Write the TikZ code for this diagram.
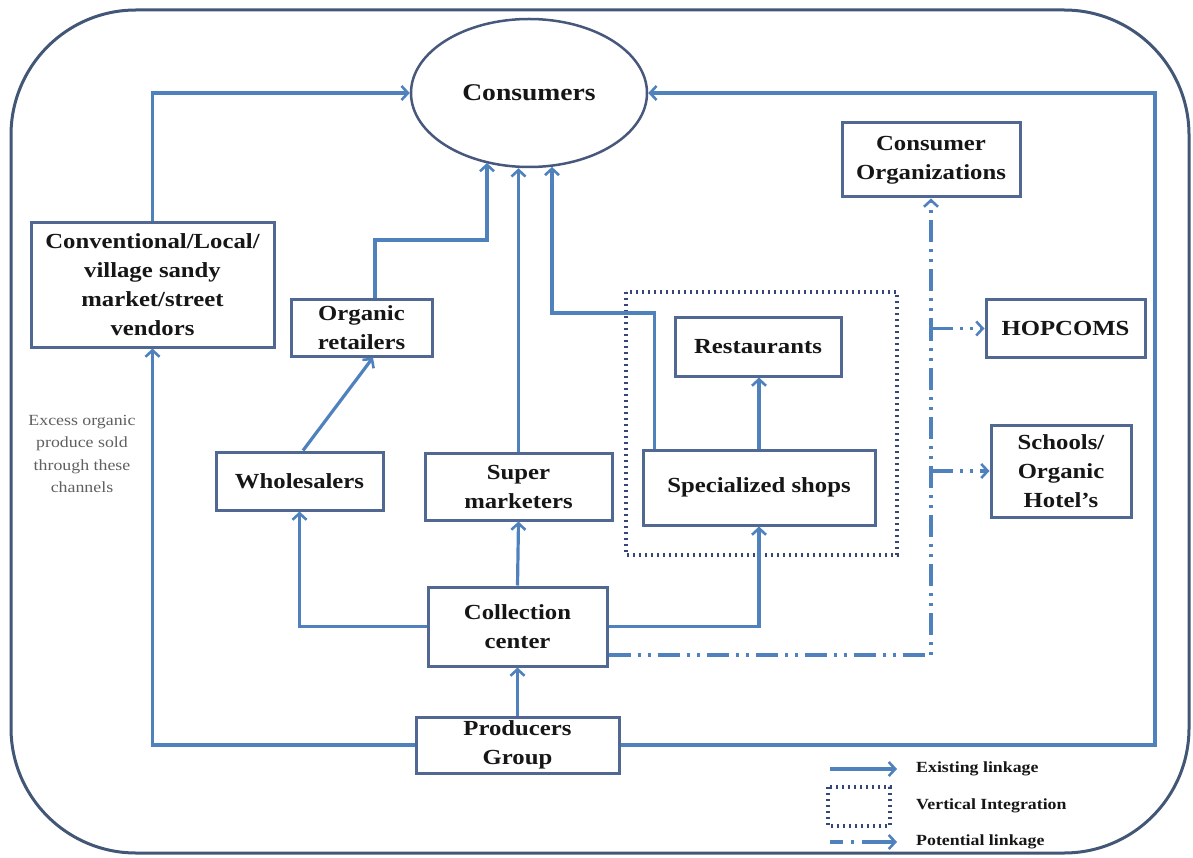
\documentclass[tikz,border=0pt]{standalone}
\usepackage{fontspec}
\setmainfont{Liberation Serif}[FakeStretch=1.15]
\usetikzlibrary{arrows.meta,shapes.geometric}

\definecolor{linkblue}{RGB}{79,129,189}
\definecolor{boxc}{RGB}{80,104,146}
\definecolor{ellc}{RGB}{72,88,124}
\definecolor{framec}{RGB}{66,86,118}
\definecolor{vintc}{RGB}{55,70,120}
\definecolor{txt}{RGB}{22,22,22}
\definecolor{notec}{RGB}{95,95,95}

\newcommand\bxfont{\bfseries\fontsize{21.5}{29}\selectfont}
\newcommand\lgfont{\bfseries\fontsize{15.5}{18}\selectfont}

\begin{document}
\begin{tikzpicture}[x=1pt,y=-1pt,
  tip/.tip={Straight Barb[length=6.5pt,width=14pt,line width=2.6pt]},
  link/.style={draw=linkblue,line width=3.2pt,-tip},
  potential/.style={draw=linkblue,line width=3.2pt,
    dash pattern=on 22pt off 7pt on 3pt off 7pt on 3pt off 7pt,-tip},
  vint/.style={draw=vintc,line width=3.2pt,dash pattern=on 2.2pt off 3.8pt},
  box/.style={draw=boxc,line width=3pt,fill=white,align=center,
    font=\bxfont,text=txt,inner sep=0pt},
  legtext/.style={anchor=west,font=\lgfont,text=txt,inner sep=0pt}]

\useasboundingbox (0,0) rectangle (1193,858);

% outer frame
\draw[framec,line width=3pt,rounded corners=125pt] (11,10) rectangle (1189,853);

% vertical integration frame
\draw[vint] (626,292) rectangle (897,555);

% actors
\node[ellipse,draw=ellc,line width=2.5pt,minimum width=236pt,minimum height=148pt,
  inner sep=0pt,font=\bfseries\fontsize{24}{28}\selectfont,text=txt] (cons) at (529,93) {Consumers};
\node[box,minimum width=243pt,minimum height=124pt] (conv) at (152.5,285)
  {Conventional/Local/\\village sandy\\market/street\\vendors};
\node[box,minimum width=141pt,minimum height=56pt] (oret) at (361.5,328) {Organic\\retailers};
\node[box,minimum width=167pt,minimum height=58pt] (whole) at (299.5,481) {Wholesalers};
\node[box,minimum width=187pt,minimum height=67pt] (super) at (518.5,486.5) {Super\\marketers};
\node[box,minimum width=166pt,minimum height=58pt] (rest) at (758,347) {Restaurants};
\node[box,minimum width=232pt,minimum height=75pt] (spec) at (759,487.5) {Specialized shops};
\node[box,minimum width=179pt,minimum height=79pt] (coll) at (517.5,626.5) {Collection\\center};
\node[box,minimum width=203pt,minimum height=56pt] (prod) at (517.5,745) {Producers\\Group};
\node[box,minimum width=178pt,minimum height=74pt] (corg) at (931,160) {Consumer\\Organizations};
\node[box,minimum width=159pt,minimum height=57pt] (hop) at (1065.5,328.5) {HOPCOMS};
\node[box,minimum width=140pt,minimum height=92pt] (sch) at (1061,471) {Schools/\\Organic\\Hotel's};

\node[align=center,text=notec,inner sep=0pt,font=\fontsize{15.5}{22.5}\selectfont] (note) at (82,454)
  {Excess organic\\produce sold\\through these\\channels};

% existing linkages
\coordinate (ob) at (487,240);
\coordinate (sb) at (552,313);
\coordinate (rc) at (1155,745);
\draw[link] (conv.north) |- (cons.west);
\draw[link] ([xshift=13.5pt]oret.north) |- (ob) -- (ob |- cons.238.7);
\draw[link] ([xshift=3.5pt]whole.north) -- ([xshift=11.5pt]oret.south);
\draw[link] (super.north) -- (super.north |- cons.south);
\draw[link] ([xshift=13pt]spec.north west) |- (sb) -- (sb |- cons.287.6);
\draw[link] (spec.north) -- (spec.north |- rest.south);
\draw[link] (coll.west) -| (whole.south);
\draw[link] (coll.north) -- (super.south);
\draw[link] (coll.east) -| (spec.south);
\draw[link] (prod.north) -- (coll.south);
\draw[link] (prod.west) -| (conv.south);
\draw[link] (prod.east) -- (rc) |- (cons.east);

% potential linkages
\draw[potential] ([yshift=-28.5pt]coll.east) -| (corg.south);
\draw[potential] (hop.west -| corg.south) -- (hop.west);
\draw[potential] (sch.west -| corg.south) -- (sch.west);

% legend
\coordinate (la) at (830,769);
\coordinate (lb) at (897,769);
\coordinate (lc) at (830,842);
\coordinate (ld) at (897,842);
\draw[link] (la) -- (lb);
\node[legtext] (lt1) at (916,769) {Existing linkage};
\draw[vint] (828,787) rectangle (890,826);
\node[legtext] (lt2) at (916,806) {Vertical Integration};
\draw[draw=linkblue,line width=3.2pt,dash pattern=on 13pt off 8pt on 3pt off 8pt on 60pt,-tip] (lc) -- (ld);
\node[legtext] (lt3) at (916,842) {Potential linkage};
\end{tikzpicture}
\end{document}
